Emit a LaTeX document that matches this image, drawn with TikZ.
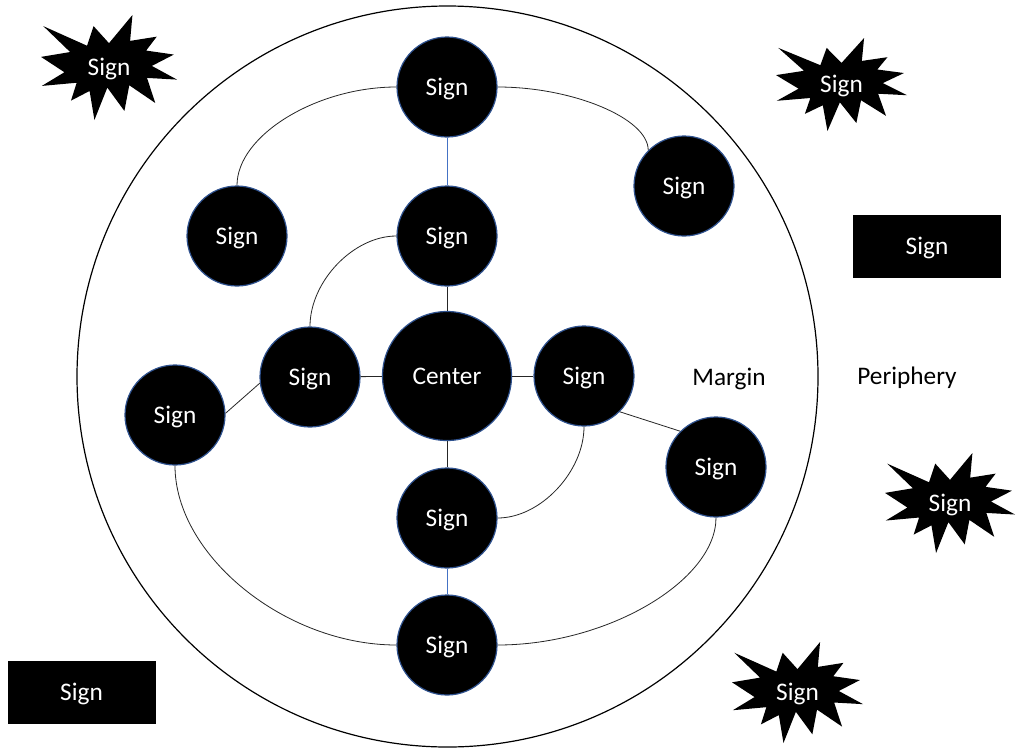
\documentclass[tikz,border=0pt]{standalone}
\usepackage{fontspec}
\setmainfont{Carlito}
\definecolor{rimblue}{HTML}{2F528F}
\definecolor{linkblue}{HTML}{4472C4}
\tikzset{
  txt/.style={font=\fontsize{25.3}{30}\selectfont, text height=17pt, text depth=1pt},
  signball/.style={circle, fill=black, draw=rimblue, line width=1.2pt, text=white,
    minimum size=100pt, inner sep=0pt, txt},
  bigball/.style={signball, minimum size=129pt},
  signrect/.style={rectangle, fill=black, draw=none, text=white, minimum width=148pt,
    minimum height=63pt, inner sep=0pt, txt},
  plainlabel/.style={text=black, inner sep=0pt, txt},
  conn/.style={draw=black!85, line width=0.8pt},
  bconn/.style={draw=linkblue, line width=0.8pt},
  burstlabel/.style={text=white, inner sep=0pt, txt}
}
% #1 name, #2 x0, #3 y0, #4 width, #5 height
\newcommand\drawburst[5]{%
  \begin{scope}[shift={(#2,#3)}, x={(#4pt/100,0)}, y={(0,-#5pt/100)}]
    \fill[black] (50,26.85) -- (67.23,0) -- (65.53,24.65) -- (85.09,20.63) -- (77.32,33.87)
      -- (97.67,37.67) -- (81.51,48.50) -- (100,61.53) -- (77.95,59.92) -- (84.00,83.77)
      -- (64.91,66.93) -- (61.33,91.38) -- (48.76,69.14) -- (39.28,100) -- (35.72,72.35)
      -- (22.05,81.56) -- (26.24,64.52) -- (0.63,67.53) -- (17.23,54.51) -- (0,39.88)
      -- (21.42,35.26) -- (1.71,10.63) -- (33.85,29.26) -- (38.67,10.63) -- cycle;
    \node[burstlabel] (#1) at (50,50) {Sign};
  \end{scope}}
\begin{document}
\begin{tikzpicture}[x=1pt,y=-1pt]
\useasboundingbox[fill=white] (0,0) rectangle (1024,755);
% outer circle
\node[circle, draw=black, line width=1.2pt, minimum size=741pt, inner sep=0pt] (outer) at (447.5,376.5) {};
% circle nodes
\node[signball] (t)  at (447,87)  {Sign};
\node[signball] (ul) at (237,236) {Sign};
\node[signball] (ur) at (684,186) {Sign};
\node[signball] (t2) at (447,236) {Sign};
\node[bigball]  (c)  at (447,376) {Center};
\node[signball] (l)  at (310,377) {Sign};
\node[signball] (fl) at (175,415) {Sign};
\node[signball] (r)  at (584,376) {Sign};
\node[signball] (fr) at (716,467) {Sign};
\node[signball] (b1) at (447,518) {Sign};
\node[signball] (b2) at (447,645) {Sign};
% connectors
\draw[bconn] (t) -- (t2);
\draw[conn] (t2) -- (c);
\draw[conn] (c) -- (l);
\draw[conn] (c) -- (r);
\draw[conn] (c) -- (b1);
\draw[bconn] (b1) -- (b2);
\draw[conn] (fl.2) -- (l.187);
\draw[conn] (r.south east) -- (fr.north west);
\draw[conn] (t.west) .. controls +(-80,0) and +(0,-50) .. (ul.north);
\draw[conn] (t.east) .. controls +(75,0) and +(0,-32) .. (ur.north west);
\draw[conn] (t2.west) .. controls +(-43,0) and +(0,-45) .. (l.north);
\draw[conn] (r.south) .. controls +(0,45) and +(43,0) .. (b1.east);
\draw[conn] (fl.south) .. controls +(0,90) and +(-111,0) .. (b2.west);
\draw[conn] (fr.south) .. controls +(0,63) and +(110,0) .. (b2.east);
% labels
\node[plainlabel] (margin) at (729,377) {Margin};
\node[plainlabel] (periphery) at (907,376) {Periphery};
% periphery signs
\drawburst{s1}{41}{15}{136}{105}
\drawburst{s2}{776}{38}{131}{93}
\drawburst{s3}{885}{453}{130}{100}
\drawburst{s4}{732}{642}{131}{101}
\node[signrect] (q1) at (927,246.5) {Sign};
\node[signrect] (q2) at (81.5,692) {Sign};
\end{tikzpicture}
\end{document}
